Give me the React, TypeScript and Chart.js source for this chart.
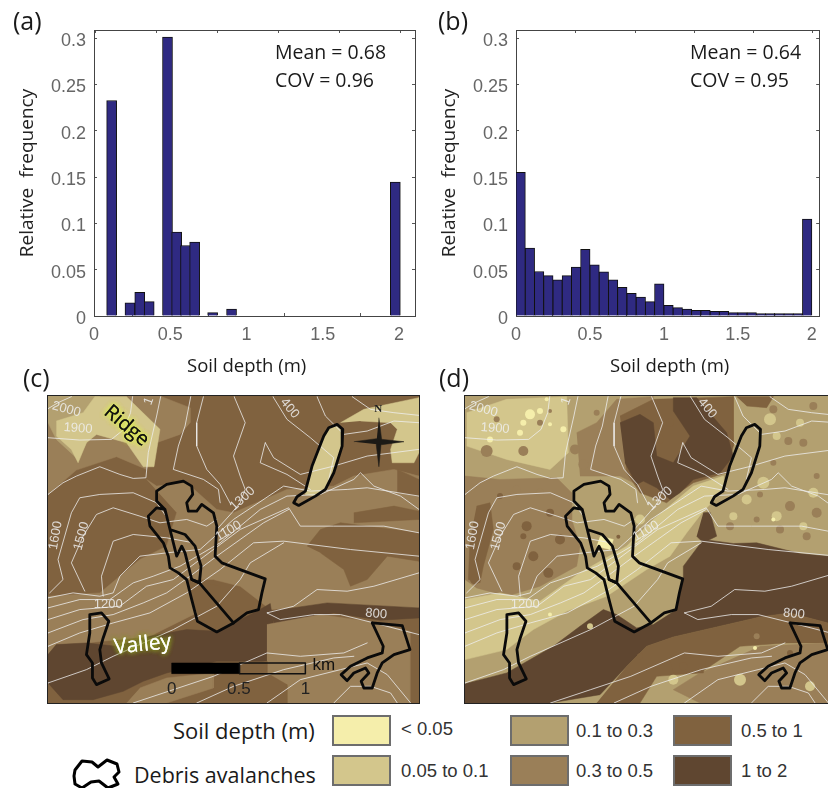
import React, { useEffect, useRef } from "react";
import { Chart, registerables } from "chart.js";
Chart.register(...registerables);

type P = number[][];

// ---------- histograms ----------
const panelACenters = [0.1157, 0.236, 0.3, 0.362, 0.482, 0.542, 0.6, 0.66, 0.778, 0.902, 1.976];
const panelAFreq = [0.2326, 0.0141, 0.0256, 0.0155, 0.3011, 0.0905, 0.0761, 0.0797, 0.0036, 0.0076, 0.1446];
const panelBFreq = [0.155, 0.0732, 0.048, 0.0436, 0.039, 0.0436, 0.0527, 0.072, 0.0552, 0.0476, 0.039, 0.031, 0.0245, 0.0205, 0.0155, 0.0346, 0.0115, 0.009, 0.0076, 0.0061, 0.0061, 0.005, 0.005, 0.0036, 0.0036, 0.0036, 0.0025, 0.0025, 0.0025, 0.0025, 0.0025, 0.1046];
const binWidthB = 0.0625;

// ---------- soil depth classes ----------
const depthClasses = ["< 0.05", "0.05 to 0.1", "0.1 to 0.3", "0.3 to 0.5", "0.5 to 1", "1 to 2"];
const classColors = ["#f5eeab", "#d3c68c", "#b3a070", "#9a7f58", "#80623f", "#5f4630"];

// ---------- shared map lines (grid units of panel c) ----------
const contourLines: P[] = [
  [[145, 88], [175, 70], [215, 52]],
  [[145, 175], [240, 182], [335, 180], [372, 150], [392, 100], [398, 52]],
  [[145, 345], [190, 310], [230, 290], [300, 262], [360, 285], [400, 297], [438, 295], [445, 220], [470, 110], [482, 52]],
  [[660, 370], [655, 330], [610, 300], [520, 270], [535, 200], [555, 140], [572, 52]],
  [[610, 52], [590, 130], [590, 200], [620, 270], [660, 315], [692, 375]],
  [[702, 52], [735, 130], [700, 230], [720, 290], [735, 330], [720, 370], [695, 400], [650, 450]],
  [[818, 52], [860, 120], [930, 175], [1000, 235], [985, 300]],
  [[950, 52], [975, 110], [1030, 165], [1100, 155], [1180, 125], [1255, 130]],
  [[1055, 52], [1110, 90], [1180, 100], [1255, 108]],
  [[795, 190], [780, 250], [860, 285], [930, 330]],
  [[795, 190], [820, 235], [900, 285], [1000, 260], [1100, 230], [1255, 210]],
  [[150, 640], [190, 600], [175, 540], [215, 400], [240, 355], [300, 345], [400, 340], [470, 370], [505, 420]],
  [[255, 635], [215, 550], [250, 470], [290, 405], [340, 385], [420, 410], [480, 430], [560, 420], [620, 440], [650, 420]],
  [[310, 650], [305, 590], [340, 485], [400, 465], [500, 475], [580, 490]],
  [[145, 655], [220, 640], [300, 650], [340, 640], [360, 590], [420, 530], [500, 520], [600, 510], [700, 420], [850, 320], [930, 335], [1040, 330], [1100, 325], [1255, 350]],
  [[145, 685], [240, 660], [330, 660], [400, 610], [460, 590], [540, 560], [660, 490], [780, 390], [860, 350], [960, 345], [1060, 300], [1080, 280], [1120, 320], [1200, 350], [1255, 390]],
  [[145, 720], [240, 690], [360, 680], [440, 620], [520, 600], [640, 510], [720, 450], [865, 385], [900, 440], [1000, 440], [1150, 440], [1255, 460]],
  [[145, 760], [250, 720], [340, 705], [430, 670], [500, 640], [570, 590], [650, 530], [720, 480], [790, 430], [865, 390]],
  [[145, 800], [240, 760], [340, 730], [450, 700], [560, 640], [660, 570], [760, 490], [850, 485], [1050, 510], [1255, 530]],
  [[145, 910], [260, 870], [340, 830], [520, 750], [650, 680], [720, 600], [750, 550], [850, 490]],
  [[800, 700], [880, 680], [950, 630], [1040, 635], [1120, 620], [1255, 580]],
  [[800, 700], [840, 720], [940, 705], [1020, 705], [1120, 730], [1255, 765]],
  [[400, 970], [520, 930], [640, 890], [800, 820], [900, 830], [1030, 820], [1100, 790]],
  [[590, 970], [700, 920], [850, 870], [1000, 835], [1060, 830]],
  [[800, 970], [900, 900], [1020, 870], [1100, 850], [1160, 885], [1230, 970]],
  [[1000, 970], [1050, 920], [1110, 920], [1170, 940], [1190, 970]],
];
const avalancheTopRight: P = [[1010, 135], [1027, 150], [1025, 200], [1000, 280], [975, 330], [945, 350], [895, 378], [880, 370], [890, 352], [915, 335], [935, 260], [970, 170], [985, 145], [1010, 135]];
const avalancheMain: P = [[495, 390], [470, 365], [470, 335], [500, 315], [550, 305], [575, 320], [578, 345], [560, 370], [565, 395], [590, 395], [605, 375], [640, 400], [650, 440], [645, 530], [665, 550], [795, 598], [785, 640], [775, 690], [740, 700], [700, 730], [650, 757], [592, 725], [575, 660], [560, 600], [535, 580], [510, 565], [505, 530], [490, 490], [450, 440], [445, 410], [470, 385], [495, 390], [510, 450], [530, 530], [545, 500], [555, 520], [575, 600], [598, 610], [603, 560], [585, 500], [555, 465], [510, 450]];
const avalancheInnerLine: P = [[575, 600], [598, 610], [700, 730]];
const avalancheLeft: P = [[270, 705], [305, 700], [327, 725], [310, 775], [300, 810], [305, 850], [328, 898], [290, 915], [278, 895], [278, 850], [260, 825], [270, 760], [270, 705]];
const avalancheRight: P = [[1115, 730], [1205, 738], [1228, 810], [1180, 825], [1145, 850], [1130, 880], [1115, 925], [1090, 925], [1082, 905], [1105, 880], [1095, 865], [1060, 880], [1040, 903], [1022, 885], [1050, 860], [1100, 835], [1145, 820], [1148, 800], [1115, 730]];
const avalanches = [avalancheTopRight, avalancheMain, avalancheInnerLine, avalancheLeft, avalancheRight];
const legendBlob: P = [[3, 13], [10, 4], [20, 5], [26, 10], [35, 3], [45, 7], [47, 15], [42, 20], [46, 27], [36, 31], [27, 24], [19, 25], [10, 31], [3, 27], [2, 19], [3, 13]];

const contourLabels = [
  { t: "2000", x: 200, y: 90, r: 15 }, { t: "1900", x: 235, y: 147, r: 4 }, { t: "1", x: 447, y: 65, r: -70 },
  { t: "400", x: 868, y: 87, r: 50 }, { t: "1600", x: 168, y: 468, r: -80 }, { t: "1500", x: 245, y: 470, r: -75 },
  { t: "1300", x: 727, y: 358, r: -42 }, { t: "1100", x: 685, y: 455, r: -30 }, { t: "1200", x: 325, y: 675, r: 0 }, { t: "800", x: 1127, y: 703, r: 5 },
];

// ---------- panel c regions: [class index, outline] ----------
const mapCRegions: [number, P][] = [
  [4, [[145, 50], [1255, 50], [1255, 970], [145, 970]]],
  [3, [[145, 50], [480, 50], [570, 85], [570, 130], [540, 165], [470, 190], [440, 270], [350, 232], [230, 272], [145, 345]]],
  [2, [[145, 50], [300, 50], [310, 130], [260, 190], [235, 240], [170, 180], [145, 130]]],
  [1, [[170, 125], [250, 100], [285, 52], [380, 52], [480, 150], [462, 262], [430, 262], [380, 190], [290, 165], [260, 190], [235, 250], [215, 210], [170, 170]]],
  [3, [[440, 300], [470, 320], [560, 310], [650, 390], [700, 400], [860, 330], [1000, 320], [1060, 290], [1180, 270], [1255, 290], [1255, 700], [960, 680], [810, 690], [720, 620], [640, 600], [560, 600], [590, 700], [450, 770], [260, 790], [170, 795], [145, 825], [145, 650], [300, 640], [420, 540], [500, 500], [530, 400]]],
  [4, [[920, 500], [960, 450], [1020, 430], [1255, 460], [1255, 545], [1160, 530], [1100, 600], [1050, 620], [1030, 570], [960, 520]]],
  [4, [[1060, 400], [1180, 380], [1255, 395], [1255, 420], [1060, 430]]],
  [4, [[570, 600], [660, 620], [665, 680], [595, 705], [575, 660]]],
  [4, [[1190, 270], [1255, 300], [1255, 350], [1190, 340]]],
  [5, [[145, 825], [170, 795], [260, 790], [350, 800], [450, 770], [560, 750], [650, 755], [770, 695], [810, 672], [820, 735], [800, 820], [800, 845], [650, 845], [500, 880], [430, 905], [370, 935], [280, 960], [190, 960], [145, 910]]],
  [5, [[810, 695], [980, 670], [1255, 685], [1255, 715], [1140, 722], [1000, 700], [822, 735]]],
  [3, [[800, 735], [960, 705], [1100, 725], [1228, 755], [1228, 970], [860, 970], [860, 915], [800, 880]]],
  [4, [[640, 880], [800, 845], [800, 880], [860, 915], [860, 970], [640, 970]]],
  [3, [[420, 925], [500, 895], [640, 880], [640, 925], [500, 970], [380, 970]]],
  [1, [[1020, 130], [1090, 90], [1255, 55], [1255, 220], [1240, 250], [1175, 250], [1170, 210], [1190, 150], [1170, 130], [1080, 125]]],
  [1, [[1010, 135], [1027, 150], [1025, 200], [1000, 280], [975, 330], [945, 350], [915, 345], [935, 260], [970, 170], [985, 145]]],
];
const scaleBarBlack: P = [[515, 850], [718, 850], [718, 882], [515, 882], [515, 850]];
const scaleBarOpen: P = [[718, 850], [915, 850], [915, 882], [718, 882], [718, 850]];
const northStar: P[] = [
  [[1135, 115], [1143, 178], [1135, 262], [1127, 196]],
  [[1060, 187], [1127, 178], [1210, 187], [1143, 196]],
];
const mapCLabels = [
  { t: "0", x: 515, y: 930, r: 0, s: 17, c: "#222" }, { t: "0.5", x: 716, y: 930, r: 0, s: 17, c: "#222" }, { t: "1", x: 915, y: 930, r: 0, s: 17, c: "#222" },
  { t: "km", x: 970, y: 858, r: 0, s: 17, c: "#111" },
];

// ---------- panel d regions, in its own grid units ----------
const mapDRegions: [number, P][] = [
  [2, [[75, 50], [1164, 50], [1164, 970], [75, 970]]],
  [1, [[80, 100], [200, 60], [380, 52], [385, 220], [330, 270], [200, 240], [80, 200]]],
  [3, [[75, 290], [180, 300], [350, 295], [395, 340], [395, 420], [420, 500], [410, 560], [300, 620], [200, 650], [110, 625], [75, 600]]],
  [4, [[110, 380], [150, 370], [160, 450], [130, 560], [120, 610], [85, 600], [90, 480]]],
  [3, [[410, 160], [470, 130], [530, 60], [640, 52], [600, 320], [540, 290], [420, 290]]],
  [4, [[540, 110], [640, 60], [880, 52], [880, 200], [860, 280], [760, 310], [710, 345], [680, 370], [600, 340], [560, 280]]],
  [5, [[540, 130], [600, 105], [640, 130], [650, 230], [700, 250], [750, 170], [700, 95], [700, 55], [770, 55], [860, 160], [880, 230], [840, 280], [760, 300], [720, 340], [690, 360], [650, 325], [610, 305], [590, 315], [555, 250]]],
  [4, [[890, 52], [1000, 52], [980, 85], [920, 80]]],
  [1, [[75, 660], [180, 640], [300, 665], [420, 580], [560, 500], [640, 420], [760, 320], [850, 290], [850, 335], [790, 395], [740, 460], [690, 530], [620, 570], [500, 650], [380, 695], [280, 750], [200, 810], [75, 840]]],
  [0, [[480, 470], [520, 480], [510, 510], [470, 500]]],
  [5, [[75, 970], [75, 912], [200, 880], [340, 800], [420, 740], [490, 690], [530, 705], [590, 745], [640, 735], [710, 690], [730, 595], [730, 560], [790, 480], [880, 492], [950, 490], [1080, 522], [1164, 530], [1164, 730], [1050, 700], [960, 712], [830, 742], [700, 772], [620, 800], [560, 860], [480, 945], [330, 970]]],
  [5, [[790, 400], [810, 398], [830, 470], [790, 490], [770, 470]]],
  [4, [[560, 860], [620, 800], [700, 772], [830, 742], [960, 712], [1050, 700], [1164, 730], [1164, 790], [1040, 790], [900, 800], [780, 880], [650, 890], [600, 970], [470, 970]]],
  [3, [[960, 800], [1164, 790], [1164, 970], [780, 970], [700, 930], [780, 880]]],
  [4, [[690, 840], [800, 830], [790, 880], [700, 880]]],
];
// blotches: x, y, radius
const blotchesD4: P = [[140, 215, 6], [250, 215, 5], [300, 130, 3], [330, 95, 2], [170, 120, 3], [405, 210, 5], [430, 255, 5], [470, 100, 3], [230, 330, 4], [300, 340, 4], [960, 345, 3], [1045, 185, 4], [1000, 250, 3], [1090, 190, 4], [1050, 380, 5], [1130, 400, 5], [950, 420, 3], [1020, 450, 4], [1100, 470, 4], [870, 440, 4], [1000, 90, 4], [1120, 80, 4], [1130, 290, 3], [950, 770, 3], [860, 860, 3], [1030, 890, 4], [1080, 840, 3]];
const blotchesD5: P = [[260, 440, 5], [325, 580, 5], [250, 470, 3], [280, 530, 5], [230, 560, 4], [360, 480, 5], [105, 600, 5], [330, 400, 4], [180, 350, 3], [600, 830, 3], [730, 860, 4], [1050, 820, 3], [535, 472, 2], [690, 130, 4], [660, 180, 4]];
const blotchesD2: P = [[920, 360, 5], [970, 310, 6], [1010, 410, 5], [1090, 440, 4], [1120, 340, 5], [990, 120, 6], [1080, 130, 4], [880, 410, 4], [1010, 170, 4], [450, 740, 3], [600, 420, 5], [700, 900, 5], [900, 900, 6], [1110, 920, 5]];
const blotchesD1: P = [[150, 180, 3], [270, 105, 5], [300, 95, 3], [250, 130, 3], [370, 150, 3], [330, 135, 2], [240, 160, 3], [320, 60, 2], [945, 805, 2], [1000, 420, 2], [330, 705, 2]];

const dMapOffset = (x: number) => 75 + (x - 145) * 1.005;

const font = "'Open Sans', sans-serif";
const tickFont = "'Liberation Sans', Arial, sans-serif";

function Hist({ left, width, xMax, padRight, data, thickness }: any) {
  const ref = useRef<HTMLCanvasElement>(null);
  useEffect(() => {
    const inner = { color: "#555", tickLength: -3, drawOnChartArea: false, drawTicks: true, tickColor: "#555" };
    const border = { display: true, color: "#444", width: 1 };
    const zero = (s: any) => { s.height = 0; };
    const zeroW = (s: any) => { s.width = 0; };
    const fmt = (v: any) => String(Math.round(v * 100) / 100);
    const c = new Chart(ref.current!, {
      type: "bar",
      data: { datasets: [{ data, backgroundColor: "#2f2a82", borderColor: "#111", borderWidth: 1, barThickness: thickness }] as any },
      options: {
        animation: false, responsive: false, events: [],
        layout: { padding: { top: 30, right: padRight, left: 0, bottom: 0 } },
        plugins: { legend: { display: false }, tooltip: { enabled: false } },
        scales: {
          x: {
            type: "linear", min: 0, max: xMax, offset: false,
            grid: inner, border,
            ticks: { stepSize: 0.5, includeBounds: false, padding: 11, maxRotation: 0, color: "#666", font: { family: tickFont, size: 18 }, callback: fmt },
            afterFit: (s: any) => { s.height = 64; },
          },
          y: {
            min: 0, max: 0.3087, grid: inner, border,
            ticks: { stepSize: 0.05, includeBounds: false, padding: 11, labelOffset: 3, color: "#666", font: { family: tickFont, size: 18 }, callback: fmt },
            title: { display: true, text: "Relative  frequency", color: "#222", font: { family: font, size: 19 }, padding: { top: 16, bottom: 0 } },
            afterFit: (s: any) => { s.width = 94; },
          },
          x2: { type: "linear", axis: "x", position: "top", min: 0, max: xMax, grid: inner, border, ticks: { stepSize: 0.5, includeBounds: false, display: false }, afterFit: zero },
          y2: { type: "linear", axis: "y", position: "right", min: 0, max: 0.3087, grid: inner, border, ticks: { stepSize: 0.05, includeBounds: false, display: false }, afterFit: zeroW },
        } as any,
      },
    });
    return () => c.destroy();
  }, []);
  return <canvas ref={ref} width={width} height={380} style={{ position: "absolute", left, top: 0, width, height: 380 }} />;
}

const poly = (pts: P, color: string) => ({
  data: pts.map(([x, y]) => ({ x, y })), showLine: true, fill: "shape", backgroundColor: color, borderColor: color, borderWidth: 0.5, pointRadius: 0, tension: 0,
});
const line = (pts: P, color: string, w: number) => ({
  data: pts.map(([x, y]) => ({ x, y })), showLine: true, fill: false, borderColor: color, borderWidth: w, pointRadius: 0, tension: 0, borderJoinStyle: "round", borderCapStyle: "round",
});
const blobs = (pts: P, color: string) => ({
  type: "bubble", data: pts.map(([x, y, r]) => ({ x, y, r })), backgroundColor: color, borderWidth: 0,
});

function MapChart({ left, top, width, height, xMin, xMax, yMin, yMax, layers, labels, border }: any) {
  const ref = useRef<HTMLCanvasElement>(null);
  useEffect(() => {
    const labelPlugin = {
      id: "mapLabels",
      afterDatasetsDraw(ch: any) {
        const g = ch.ctx;
        for (const l of labels || []) {
          g.save();
          g.translate(ch.scales.x.getPixelForValue(l.x), ch.scales.y.getPixelForValue(l.y));
          g.rotate(((l.r || 0) * Math.PI) / 180);
          g.font = `${l.w || "normal"} ${l.s || 13}px ${l.f || tickFont}`;
          g.textAlign = "center"; g.textBaseline = "middle";
          if (l.glow) { g.shadowColor = l.glow; g.shadowBlur = 5; g.fillStyle = l.c; g.fillText(l.t, 0, 0); g.fillText(l.t, 0, 0); }
          g.fillStyle = l.c || "rgba(238,238,238,0.85)";
          g.fillText(l.t, 0, 0);
          g.restore();
        }
      },
    };
    const c = new Chart(ref.current!, {
      type: "scatter",
      data: { datasets: [...layers].reverse() },
      plugins: [labelPlugin],
      options: {
        animation: false, responsive: false, events: [],
        layout: { padding: 0, autoPadding: false },
        plugins: { legend: { display: false }, tooltip: { enabled: false } },
        scales: {
          x: { type: "linear", display: false, min: xMin, max: xMax },
          y: { type: "linear", display: false, min: yMin, max: yMax, reverse: true },
        },
      } as any,
    });
    return () => c.destroy();
  }, []);
  return <canvas ref={ref} width={width} height={height} style={{ position: "absolute", left, top, width, height, ...(border || {}) }} />;
}

const Txt = ({ x, y, s, children, f, c }: any) => (
  <div style={{ position: "absolute", left: x, top: y, transform: "translateY(-50%)", fontFamily: f || font, fontSize: s, color: c || "#1a1a1a", whiteSpace: "pre", lineHeight: 1 }}>{children}</div>
);
const Swatch = ({ x, y, i }: any) => (
  <div style={{ position: "absolute", left: x, top: y, width: 55, height: 27, background: classColors[i], border: "2px solid #6d6d6d" }} />
);

const contourColor = "rgba(238,238,238,0.78)";
const cLayers = [
  ...mapCRegions.map(([k, p]) => poly(p, classColors[k])),
  ...contourLines.map((p) => line(p, contourColor, 1)),
  poly(northStar[0], "#1c1a16"), poly(northStar[1], "#1c1a16"),
  ...avalanches.map((p) => line(p, "#0a0a0a", 2.8)),
  poly(scaleBarBlack, "#000"),
  line(scaleBarOpen, "#111", 1.5),
];
const shiftD = (p: P) => p.map(([x, y]) => [dMapOffset(x), y]);
const dLayers = [
  ...mapDRegions.map(([k, p]) => poly(p, classColors[k])),
  blobs(blotchesD2, classColors[1]),
  blobs(blotchesD4, classColors[3]),
  blobs(blotchesD5, classColors[4]),
  blobs(blotchesD1, classColors[0]),
  ...contourLines.map((p) => line(shiftD(p), contourColor, 1)),
  ...avalanches.map((p) => line(shiftD(p), "#0a0a0a", 2.8)),
];
const cLabels = [
  ...contourLabels,
  ...mapCLabels,
  { t: "N", x: 1133, y: 90, r: 0, s: 11, c: "#222", f: "'Liberation Serif', serif", w: "bold" },
  { t: "Ridge", x: 380, y: 140, r: 40, s: 20, c: "#111", f: font, glow: "#dcec50" },
  { t: "Valley", x: 428, y: 796, r: -6, s: 21, c: "#fff", f: font, glow: "#8a9a20" },
];
const dLabels = contourLabels.map((l) => ({ ...l, x: dMapOffset(l.x) }));

export default function App() {
  return (
    <div style={{ position: "absolute", left: 0, top: 0, width: 828, height: 788, overflow: "hidden", background: "#fff" }}>
      <Hist left={0} width={420} xMax={2.105} padRight={5} thickness={10}
        data={panelACenters.map((x, i) => ({ x, y: panelAFreq[i] }))} />
      <Hist left={422} width={406} xMax={2.05} padRight={0} thickness={9.5}
        data={panelBFreq.map((y, i) => ({ x: (i + 0.5) * binWidthB, y }))} />
      <Txt x={13} y={20} s={25}>(a)</Txt>
      <Txt x={438} y={20} s={25}>(b)</Txt>
      <Txt x={23} y={377} s={25}>(c)</Txt>
      <Txt x={439} y={377} s={25}>(d)</Txt>
      <Txt x={275} y={52} s={19.5}>Mean = 0.68</Txt>
      <Txt x={275} y={80} s={19.5}>COV = 0.96</Txt>
      <Txt x={690} y={52} s={19.5}>Mean = 0.64</Txt>
      <Txt x={690} y={80} s={19.5}>COV = 0.95</Txt>
      <Txt x={187} y={365} s={18.5}>Soil depth (m)</Txt>
      <Txt x={610} y={365} s={18.5}>Soil depth (m)</Txt>
      <MapChart left={48} top={396} width={371} height={307} xMin={145} xMax={1255} yMin={50} yMax={970} layers={cLayers} labels={cLabels}
        border={{ boxShadow: "0 0 0 1px #222" }} />
      <MapChart left={465} top={396} width={363} height={307} xMin={75} xMax={1164} yMin={50} yMax={970} layers={dLayers} labels={dLabels}
        border={{ boxShadow: "0 0 0 1px #222" }} />
      <Txt x={173} y={730} s={22}>Soil depth (m)</Txt>
      <Txt x={134} y={775} s={21.5}>Debris avalanches</Txt>
      <MapChart left={72} top={757} width={50} height={33} xMin={0} xMax={50} yMin={0} yMax={33} layers={[line(legendBlob, "#000", 3)]} labels={[]} />
      <Swatch x={332} y={715} i={0} /><Swatch x={332} y={755} i={1} />
      <Swatch x={510} y={715} i={2} /><Swatch x={510} y={755} i={3} />
      <Swatch x={673} y={715} i={4} /><Swatch x={673} y={755} i={5} />
      <Txt x={401} y={729} s={18.5} f={tickFont} c="#333">{depthClasses[0]}</Txt>
      <Txt x={401} y={771} s={18.5} f={tickFont} c="#333">{depthClasses[1]}</Txt>
      <Txt x={576} y={731} s={18.5} f={tickFont} c="#333">{depthClasses[2]}</Txt>
      <Txt x={576} y={771} s={18.5} f={tickFont} c="#333">{depthClasses[3]}</Txt>
      <Txt x={741} y={731} s={18.5} f={tickFont} c="#333">{depthClasses[4]}</Txt>
      <Txt x={741} y={771} s={18.5} f={tickFont} c="#333">{depthClasses[5]}</Txt>
    </div>
  );
}
